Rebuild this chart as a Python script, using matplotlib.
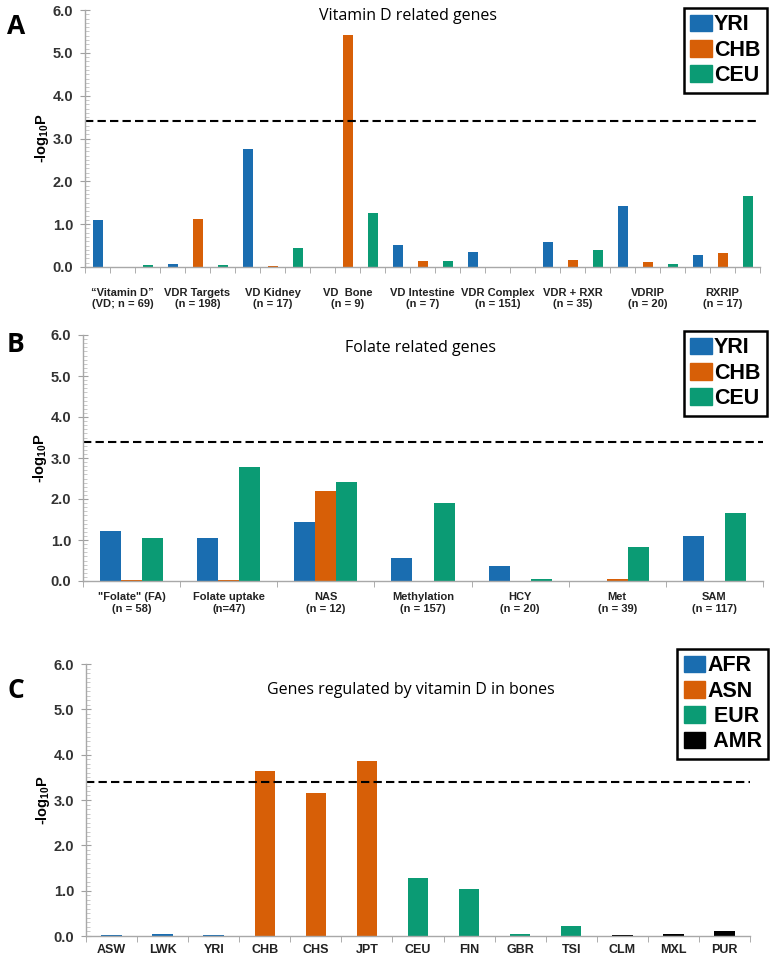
import matplotlib
matplotlib.use("Agg")
import matplotlib.pyplot as plt
from matplotlib.patches import Rectangle
from matplotlib.ticker import MultipleLocator, FixedLocator, NullFormatter
import numpy as np

plt.rcParams["font.family"] = ["Liberation Sans", "DejaVu Sans"]
plt.rcParams["mathtext.fontset"] = "custom"
plt.rcParams["mathtext.rm"] = "Liberation Sans:bold"
plt.rcParams["mathtext.bf"] = "Liberation Sans:bold"
plt.rcParams["mathtext.default"] = "bf"

BLUE, ORANGE, GREEN, BLACK = "#1a6db0", "#d75f07", "#0b9b74", "#000000"
THRESH = 3.4

# panel A: vitamin D gene sets
a_groups = ["\u201cVitamin D\u201d\n(VD; n = 69)", "VDR Targets\n(n = 198)",
            "VD Kidney\n(n = 17)", "VD  Bone\n(n = 9)", "VD Intestine\n(n = 7)",
            "VDR Complex\n(n = 151)", "VDR + RXR\n(n = 35)", "VDRIP\n(n = 20)",
            "RXRIP\n(n = 17)"]
a_yri = [1.09, 0.06, 2.76, 0.0, 0.51, 0.35, 0.58, 1.43, 0.29]
a_chb = [0.0, 1.13, 0.02, 5.42, 0.13, 0.0, 0.17, 0.11, 0.32]
a_ceu = [0.05, 0.05, 0.44, 1.25, 0.15, 0.0, 0.40, 0.07, 1.65]

# panel B: folate gene sets
b_groups = ['"Folate" (FA)\n(n = 58)', "Folate uptake\n(n=47)", "NAS\n(n = 12)",
            "Methylation\n(n = 157)", "HCY\n(n = 20)", "Met\n(n = 39)",
            "SAM\n(n = 117)"]
b_yri = [1.23, 1.06, 1.44, 0.57, 0.36, 0.0, 1.10]
b_chb = [0.03, 0.02, 2.19, 0.0, 0.0, 0.05, 0.0]
b_ceu = [1.05, 2.78, 2.42, 1.90, 0.05, 0.82, 1.66]

# panel C: 1000 Genomes populations
c_pops = ["ASW", "LWK", "YRI", "CHB", "CHS", "JPT", "CEU", "FIN", "GBR",
          "TSI", "CLM", "MXL", "PUR"]
c_region = ["AFR", "AFR", "AFR", "ASN", "ASN", "ASN", "EUR", "EUR", "EUR",
            "EUR", "AMR", "AMR", "AMR"]
c_vals = [0.02, 0.05, 0.02, 3.63, 3.16, 3.85, 1.27, 1.04, 0.05, 0.21,
          0.02, 0.04, 0.11]
region_col = {"AFR": BLUE, "ASN": ORANGE, "EUR": GREEN, "AMR": BLACK}

W, H = 778, 960
fig = plt.figure(figsize=(W / 100, H / 100), dpi=100)


def box(l, t, r, b):
    return [l / W, 1 - b / H, (r - l) / W, (b - t) / H]


def style(ax, nslots, labels, label_pos, pad, fs):
    ax.set_ylim(0, 6)
    ax.set_xlim(0, nslots)
    for s in ("top", "right"):
        ax.spines[s].set_visible(False)
    for s in ("left", "bottom"):
        ax.spines[s].set_color("#a8a8a8")
        ax.spines[s].set_linewidth(1.0)
    ax.yaxis.set_major_locator(MultipleLocator(1.0))
    ax.yaxis.set_minor_locator(MultipleLocator(0.1))
    ax.set_yticklabels([f"{v:.1f}" for v in ax.get_yticks()])
    ax.tick_params(axis="y", which="major", direction="inout", length=7,
                   color="#a0a0a0", labelsize=10.5, labelcolor="#333333", pad=5)
    ax.tick_params(axis="y", which="minor", direction="in", length=3,
                   color="#c0c0c0", width=0.6)
    for t in ax.get_yticklabels():
        t.set_fontweight("bold")
    ax.xaxis.set_major_locator(FixedLocator(label_pos))
    ax.set_xticklabels(labels, fontsize=fs, fontweight="bold",
                       color="#222222", linespacing=1.2)
    ax.xaxis.set_minor_locator(FixedLocator(np.arange(0, nslots + 1)))
    ax.xaxis.set_minor_formatter(NullFormatter())
    ax.tick_params(axis="x", which="major", length=0, pad=pad)
    ax.tick_params(axis="x", which="minor", direction="out", length=4,
                   color="#a0a0a0")
    ax.axhline(THRESH, color="black", lw=1.5, dashes=(4, 2), clip_on=False)
    ax.set_ylabel(r"-log$_{10}$P", fontsize=10.5, fontweight="bold", labelpad=1)


def legend(names, cols, l, t, r, b):
    handles = [Rectangle((0, 0), 1, 1, color=c) for c in cols]
    lg = fig.legend(handles, names, loc="upper right",
                    bbox_to_anchor=(r / W, 1 - t / H), bbox_transform=fig.transFigure,
                    prop={"weight": "bold", "size": 15.5}, handlelength=1.0,
                    handleheight=0.8, handletextpad=0.1, labelspacing=0.2,
                    borderpad=0.3, borderaxespad=0, fancybox=False,
                    framealpha=1)
    lg.get_frame().set_edgecolor("black")
    lg.get_frame().set_linewidth(1.8)


# ---- A
axA = fig.add_axes(box(85, 10, 760, 267))
na = len(a_groups)
slot = np.arange(na) * 3
axA.bar(slot + 0.5, a_yri, 0.4, color=BLUE)
axA.bar(slot + 1.5, a_chb, 0.4, color=ORANGE)
axA.bar(slot + 2.5, a_ceu, 0.4, color=GREEN)
style(axA, 3 * na, a_groups, slot + 1.5, pad=15, fs=8)
fig.text(408 / W, 1 - 16 / H, "Vitamin D related genes", family="Open Sans",
         fontsize=11.5, ha="center", va="center")
legend(["YRI", "CHB", "CEU"], [BLUE, ORANGE, GREEN], 675, 8, 767, 95)

# ---- B
axB = fig.add_axes(box(83, 335, 763, 581))
nb = len(b_groups)
gx = np.arange(nb) + 0.5
bw = 0.217
axB.bar(gx - bw, b_yri, bw, color=BLUE)
axB.bar(gx, b_chb, bw, color=ORANGE)
axB.bar(gx + bw, b_ceu, bw, color=GREEN)
style(axB, nb, b_groups, gx, pad=8, fs=8)
fig.text(421 / W, 1 - 348 / H, "Folate related genes", family="Open Sans",
         fontsize=11.5, ha="center", va="center")
legend(["YRI", "CHB", "CEU"], [BLUE, ORANGE, GREEN], 676, 331, 767, 418)

# ---- C
axC = fig.add_axes(box(86, 664, 750, 936))
cx = np.arange(len(c_pops)) + 0.5
axC.bar(cx, c_vals, 0.4, color=[region_col[r] for r in c_region])
style(axC, len(c_pops), c_pops, cx, pad=6, fs=9)
fig.text(411 / W, 1 - 690 / H, "Genes regulated by vitamin D in bones",
         family="Open Sans", fontsize=11.5, ha="center", va="center")
legend(["AFR", "ASN", " EUR", " AMR"], [BLUE, ORANGE, GREEN, BLACK],
       677, 649, 768, 749)

for letter, y in (("A", 26), ("B", 345), ("C", 690)):
    fig.text(16 / W, 1 - y / H, letter, fontsize=19, fontweight="bold",
             family="Open Sans", ha="center", va="center")

fig.savefig("out.png", dpi=100)
